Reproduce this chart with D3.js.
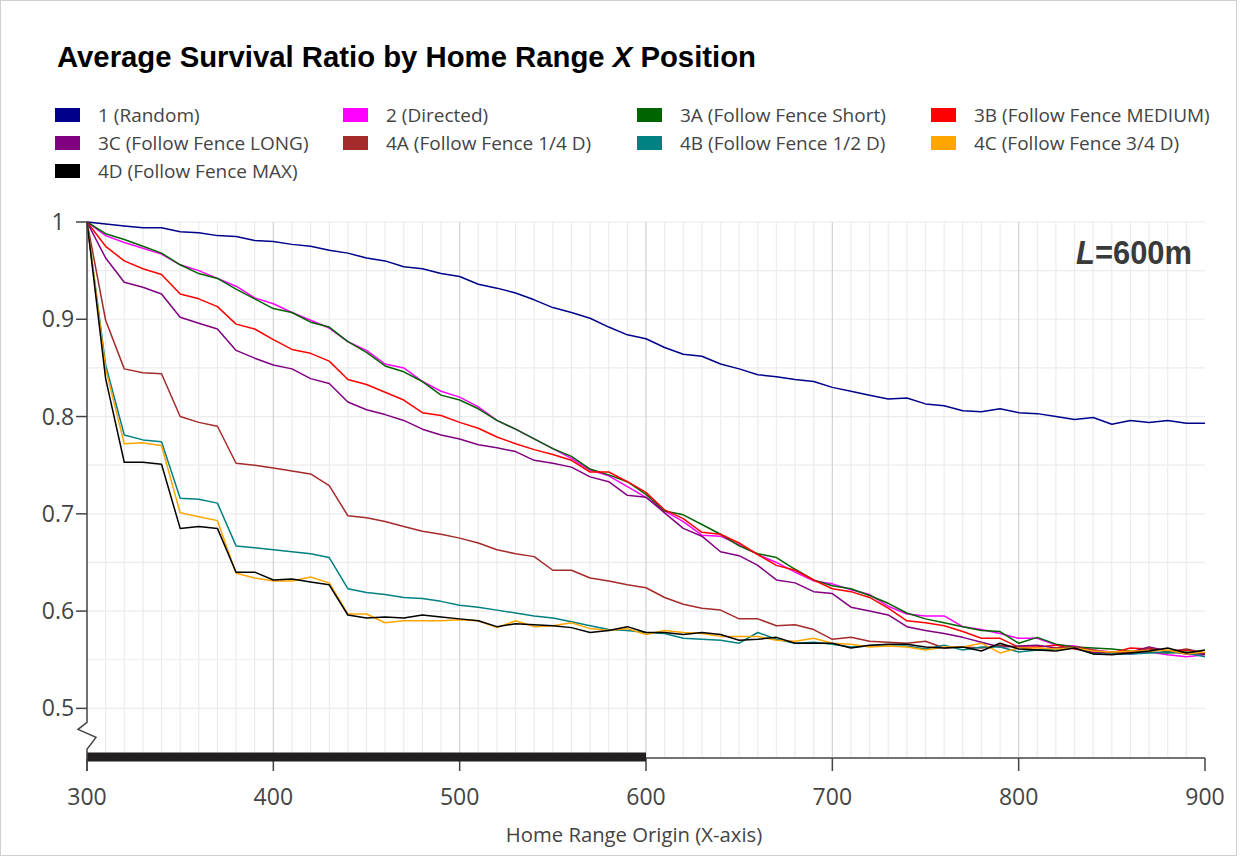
<!DOCTYPE html>
<html>
<head>
<meta charset="utf-8">
<script src="https://cdn.jsdelivr.net/npm/d3@7/dist/d3.min.js"></script>
<style>
  html, body { margin: 0; padding: 0; background: #fff; }
  svg { display: block; }
</style>
</head>
<body>
<svg id="chart" width="1240" height="857"></svg>
<script>
// Home range origin positions along the X axis (m)
const homeRangeX = [300,310,320,330,340,350,360,370,380,390,
  400,410,420,430,440,450,460,470,480,490,
  500,510,520,530,540,550,560,570,580,590,
  600,610,620,630,640,650,660,670,680,690,
  700,710,720,730,740,750,760,770,780,790,
  800,810,820,830,840,850,860,870,880,890,900];

const seriesNames = ["1 (Random)", "2 (Directed)", "3A (Follow Fence Short)", "3B (Follow Fence MEDIUM)",
  "3C (Follow Fence LONG)", "4A (Follow Fence 1/4 D)", "4B (Follow Fence 1/2 D)", "4C (Follow Fence 3/4 D)",
  "4D (Follow Fence MAX)"];
const seriesColors = ["#00008b", "#ff00ff", "#006400", "#ff0000", "#800080", "#a52a2a", "#008080", "#ffa500", "#000000"];

const random1 = [1.000,0.998,0.996,0.994,0.994,0.990,0.989,0.986,0.985,0.981,
  0.980,0.977,0.975,0.971,0.968,0.963,0.960,0.954,0.952,0.947,
  0.944,0.936,0.932,0.927,0.920,0.912,0.907,0.901,0.892,0.884,
  0.880,0.871,0.864,0.862,0.854,0.849,0.843,0.841,0.838,0.836,
  0.830,0.826,0.822,0.818,0.819,0.813,0.811,0.806,0.805,0.808,
  0.804,0.803,0.800,0.797,0.799,0.792,0.796,0.794,0.796,0.793,0.793];

const directed2 = [1.000,0.986,0.979,0.973,0.967,0.956,0.950,0.942,0.934,0.922,
  0.916,0.907,0.899,0.891,0.877,0.868,0.854,0.850,0.836,0.826,
  0.820,0.810,0.796,0.787,0.777,0.767,0.757,0.745,0.739,0.728,
  0.717,0.703,0.692,0.678,0.677,0.668,0.658,0.650,0.640,0.631,
  0.628,0.622,0.617,0.605,0.597,0.595,0.595,0.584,0.581,0.577,
  0.572,0.572,0.565,0.564,0.560,0.558,0.556,0.558,0.555,0.553,0.555];

const fenceShort3A = [1.000,0.988,0.982,0.975,0.968,0.956,0.947,0.942,0.931,0.921,
  0.911,0.907,0.897,0.892,0.877,0.866,0.852,0.846,0.836,0.822,
  0.817,0.808,0.796,0.787,0.777,0.767,0.759,0.746,0.740,0.733,
  0.720,0.703,0.699,0.689,0.679,0.667,0.659,0.655,0.643,0.632,
  0.626,0.623,0.616,0.608,0.598,0.592,0.588,0.584,0.580,0.579,
  0.567,0.573,0.566,0.563,0.562,0.561,0.559,0.558,0.557,0.558,0.556];

const fenceMedium3B = [1.000,0.975,0.960,0.952,0.946,0.926,0.921,0.913,0.895,0.890,
  0.879,0.869,0.865,0.857,0.838,0.833,0.825,0.817,0.804,0.801,
  0.794,0.788,0.779,0.772,0.766,0.761,0.755,0.743,0.743,0.733,
  0.722,0.704,0.695,0.681,0.679,0.670,0.658,0.647,0.642,0.632,
  0.623,0.620,0.614,0.603,0.590,0.588,0.585,0.579,0.572,0.572,
  0.563,0.563,0.565,0.561,0.558,0.557,0.562,0.561,0.559,0.560,0.557];

const fenceLong3C = [1.000,0.963,0.938,0.933,0.926,0.902,0.896,0.890,0.868,0.860,
  0.853,0.849,0.839,0.834,0.815,0.807,0.802,0.796,0.787,0.781,
  0.777,0.771,0.768,0.764,0.755,0.752,0.748,0.738,0.733,0.719,
  0.717,0.701,0.685,0.677,0.661,0.657,0.647,0.632,0.629,0.620,
  0.618,0.604,0.600,0.596,0.584,0.580,0.577,0.573,0.568,0.563,
  0.564,0.565,0.562,0.562,0.557,0.558,0.558,0.563,0.559,0.556,0.556];

const fenceQuarter4A = [1.000,0.899,0.849,0.845,0.844,0.800,0.794,0.790,0.752,0.750,
  0.747,0.744,0.741,0.729,0.698,0.696,0.692,0.687,0.682,0.679,
  0.675,0.670,0.663,0.659,0.656,0.642,0.642,0.634,0.631,0.627,
  0.624,0.614,0.607,0.603,0.601,0.592,0.592,0.585,0.586,0.581,
  0.571,0.573,0.569,0.568,0.567,0.569,0.562,0.563,0.562,0.565,
  0.563,0.560,0.562,0.563,0.560,0.557,0.557,0.562,0.558,0.561,0.557];

const fenceHalf4B = [1.000,0.853,0.781,0.776,0.774,0.716,0.715,0.711,0.667,0.665,
  0.663,0.661,0.659,0.655,0.623,0.619,0.617,0.614,0.613,0.610,
  0.606,0.604,0.601,0.598,0.595,0.593,0.589,0.585,0.581,0.580,
  0.578,0.577,0.572,0.571,0.570,0.567,0.578,0.571,0.567,0.568,
  0.566,0.563,0.564,0.564,0.564,0.561,0.565,0.560,0.563,0.563,
  0.558,0.560,0.561,0.562,0.556,0.556,0.556,0.557,0.558,0.557,0.553];

const fenceThreeQuarter4C = [1.000,0.849,0.772,0.773,0.770,0.701,0.697,0.693,0.639,0.634,
  0.631,0.631,0.635,0.629,0.597,0.597,0.588,0.590,0.590,0.590,
  0.591,0.590,0.583,0.590,0.584,0.585,0.588,0.582,0.580,0.582,
  0.576,0.580,0.578,0.577,0.574,0.574,0.574,0.570,0.569,0.572,
  0.567,0.566,0.563,0.564,0.563,0.560,0.563,0.563,0.567,0.557,
  0.562,0.562,0.561,0.562,0.559,0.558,0.559,0.559,0.560,0.556,0.558];

const fenceMax4D = [1.000,0.839,0.753,0.753,0.751,0.685,0.687,0.685,0.640,0.640,
  0.632,0.633,0.630,0.627,0.596,0.593,0.594,0.593,0.596,0.594,
  0.592,0.590,0.584,0.587,0.586,0.585,0.583,0.578,0.580,0.584,
  0.578,0.578,0.576,0.578,0.576,0.570,0.571,0.573,0.567,0.567,
  0.567,0.562,0.565,0.566,0.566,0.563,0.562,0.563,0.559,0.567,
  0.561,0.560,0.559,0.562,0.556,0.555,0.557,0.559,0.562,0.557,0.560];

const seriesValues = [random1, directed2, fenceShort3A, fenceMedium3B, fenceLong3C,
  fenceQuarter4A, fenceHalf4B, fenceThreeQuarter4C, fenceMax4D];

const xTickValues = [300, 400, 500, 600, 700, 800, 900];
const xTickLabels = ["300", "400", "500", "600", "700", "800", "900"];
const yTickValues = [0.5, 0.6, 0.7, 0.8, 0.9, 1];
const yTickLabels = ["0.5", "0.6", "0.7", "0.8", "0.9", "1"];
const fenceExtent = [300, 600];   // fence length L = 600 m, drawn along the x axis

const svg = d3.select("#chart");

// outer frame
svg.append("rect").attr("x", 0.5).attr("y", 0.5).attr("width", 1236).attr("height", 855)
  .attr("fill", "#fff").attr("stroke", "#cfcfcf").attr("stroke-width", 1);

const x = d3.scaleLinear().domain([300, 900]).range([87, 1205]);
const y = d3.scaleLinear().domain([0.45, 1]).range([757, 222]);

const grid = svg.append("g");
// minor vertical grid every 10 m
grid.selectAll("line.vmin").data(homeRangeX.filter(v => v % 100 !== 0))
  .join("line").attr("class", "vmin")
  .attr("x1", d => x(d)).attr("x2", d => x(d))
  .attr("y1", y(1)).attr("y2", y(0.45))
  .attr("stroke", "#ececec").attr("stroke-width", 1.2);
// horizontal grid every 0.05
const yGrid = [0.5, 0.55, 0.6, 0.65, 0.7, 0.75, 0.8, 0.85, 0.9, 0.95, 1];
grid.selectAll("line.h").data(yGrid).join("line").attr("class", "h")
  .attr("x1", x(300)).attr("x2", x(900))
  .attr("y1", d => y(d)).attr("y2", d => y(d))
  .attr("stroke", "#ececec").attr("stroke-width", 1.2);
// major vertical grid every 100 m
grid.selectAll("line.vmaj").data(xTickValues.filter(v => v > 300 && v < 900))
  .join("line").attr("class", "vmaj")
  .attr("x1", d => x(d)).attr("x2", d => x(d))
  .attr("y1", y(1)).attr("y2", y(0.45))
  .attr("stroke", "#d2d2d2").attr("stroke-width", 1.2);

// data lines
const line = d3.line().x((d, i) => x(homeRangeX[i])).y(d => y(d));
svg.append("g").selectAll("path").data(seriesValues).join("path")
  .attr("d", d => line(d))
  .attr("fill", "none")
  .attr("stroke", (d, i) => seriesColors[i])
  .attr("stroke-width", 1.5)
  .attr("stroke-linejoin", "round");

// x axis
const axisY = y(0.45) + 1;
const xAxis = svg.append("g");
xAxis.append("line").attr("x1", x(300)).attr("x2", x(900))
  .attr("y1", axisY).attr("y2", axisY).attr("stroke", "#444").attr("stroke-width", 1.5);
xAxis.selectAll("line.tick").data(xTickValues).join("line").attr("class", "tick")
  .attr("x1", d => x(d)).attr("x2", d => x(d))
  .attr("y1", axisY).attr("y2", axisY + 13)
  .attr("stroke", "#444").attr("stroke-width", 1.5);
xAxis.selectAll("text").data(xTickValues).join("text")
  .attr("x", d => x(d)).attr("y", 805)
  .attr("text-anchor", "middle")
  .attr("font-family", "'Open Sans', sans-serif").attr("font-size", 23)
  .attr("fill", "#444")
  .text((d, i) => xTickLabels[i]);

// fence bar along the x axis
svg.append("line").attr("x1", x(fenceExtent[0])).attr("x2", x(fenceExtent[1]))
  .attr("y1", y(0.45)).attr("y2", y(0.45))
  .attr("stroke", "#231f20").attr("stroke-width", 9);

// y axis with break
const yAxis = svg.append("g");
const ax = x(300);
yAxis.append("path")
  .attr("d", `M${ax},${y(1)} L${ax},${y(0.5) + 14} L${ax - 9},${y(0.5) + 21} L${ax + 9},${y(0.5) + 29} L${ax},${y(0.5) + 41} L${ax},${axisY + 13}`)
  .attr("fill", "none").attr("stroke", "#444").attr("stroke-width", 1.5);
yAxis.selectAll("line.tick").data(yTickValues).join("line").attr("class", "tick")
  .attr("x1", ax - 11).attr("x2", ax)
  .attr("y1", d => y(d)).attr("y2", d => y(d))
  .attr("stroke", "#444").attr("stroke-width", 1.5);
yAxis.selectAll("text").data(yTickValues).join("text")
  .attr("x", ax - 29).attr("y", d => y(d)).attr("dy", "0.35em")
  .attr("text-anchor", "middle")
  .attr("font-family", "'Open Sans', sans-serif").attr("font-size", 23)
  .attr("fill", "#444")
  .text((d, i) => yTickLabels[i]);

// axis title
svg.append("text").attr("x", 634).attr("y", 842)
  .attr("text-anchor", "middle")
  .attr("font-family", "'Open Sans', sans-serif").attr("font-size", 20.3)
  .attr("fill", "#444")
  .text("Home Range Origin (X-axis)");

// chart title
const title = svg.append("text").attr("x", 57).attr("y", 67)
  .attr("font-family", "'Liberation Sans', Arial, sans-serif")
  .attr("font-size", 29.3).attr("font-weight", "bold").attr("fill", "#000");
title.append("tspan").text("Average Survival Ratio by Home Range ");
title.append("tspan").attr("font-style", "italic").text("X");
title.append("tspan").text(" Position");

// fence length label
const lab = svg.append("text").attr("x", 1192).attr("y", 264)
  .attr("text-anchor", "end")
  .attr("font-family", "'Liberation Sans', Arial, sans-serif")
  .attr("font-size", 33).attr("font-weight", "bold").attr("fill", "#3a3a3a")
  .attr("textLength", 116).attr("lengthAdjust", "spacingAndGlyphs");
lab.append("tspan").attr("font-style", "italic").text("L");
lab.append("tspan").text("=600m");

// legend
const legend = svg.append("g");
const colX = [55, 343, 637, 931];
const rowY = [115, 143, 171];
const items = legend.selectAll("g").data(seriesNames).join("g")
  .attr("transform", (d, i) => `translate(${colX[i % 4]},${rowY[Math.floor(i / 4)]})`);
items.append("rect").attr("x", 0).attr("y", -7).attr("width", 25).attr("height", 14)
  .attr("fill", (d, i) => seriesColors[i]);
items.append("text").attr("x", 43).attr("y", 0).attr("dy", "0.35em")
  .attr("font-family", "'Open Sans', sans-serif").attr("font-size", 19)
  .attr("fill", "#444")
  .text(d => d);
</script>
</body>
</html>
